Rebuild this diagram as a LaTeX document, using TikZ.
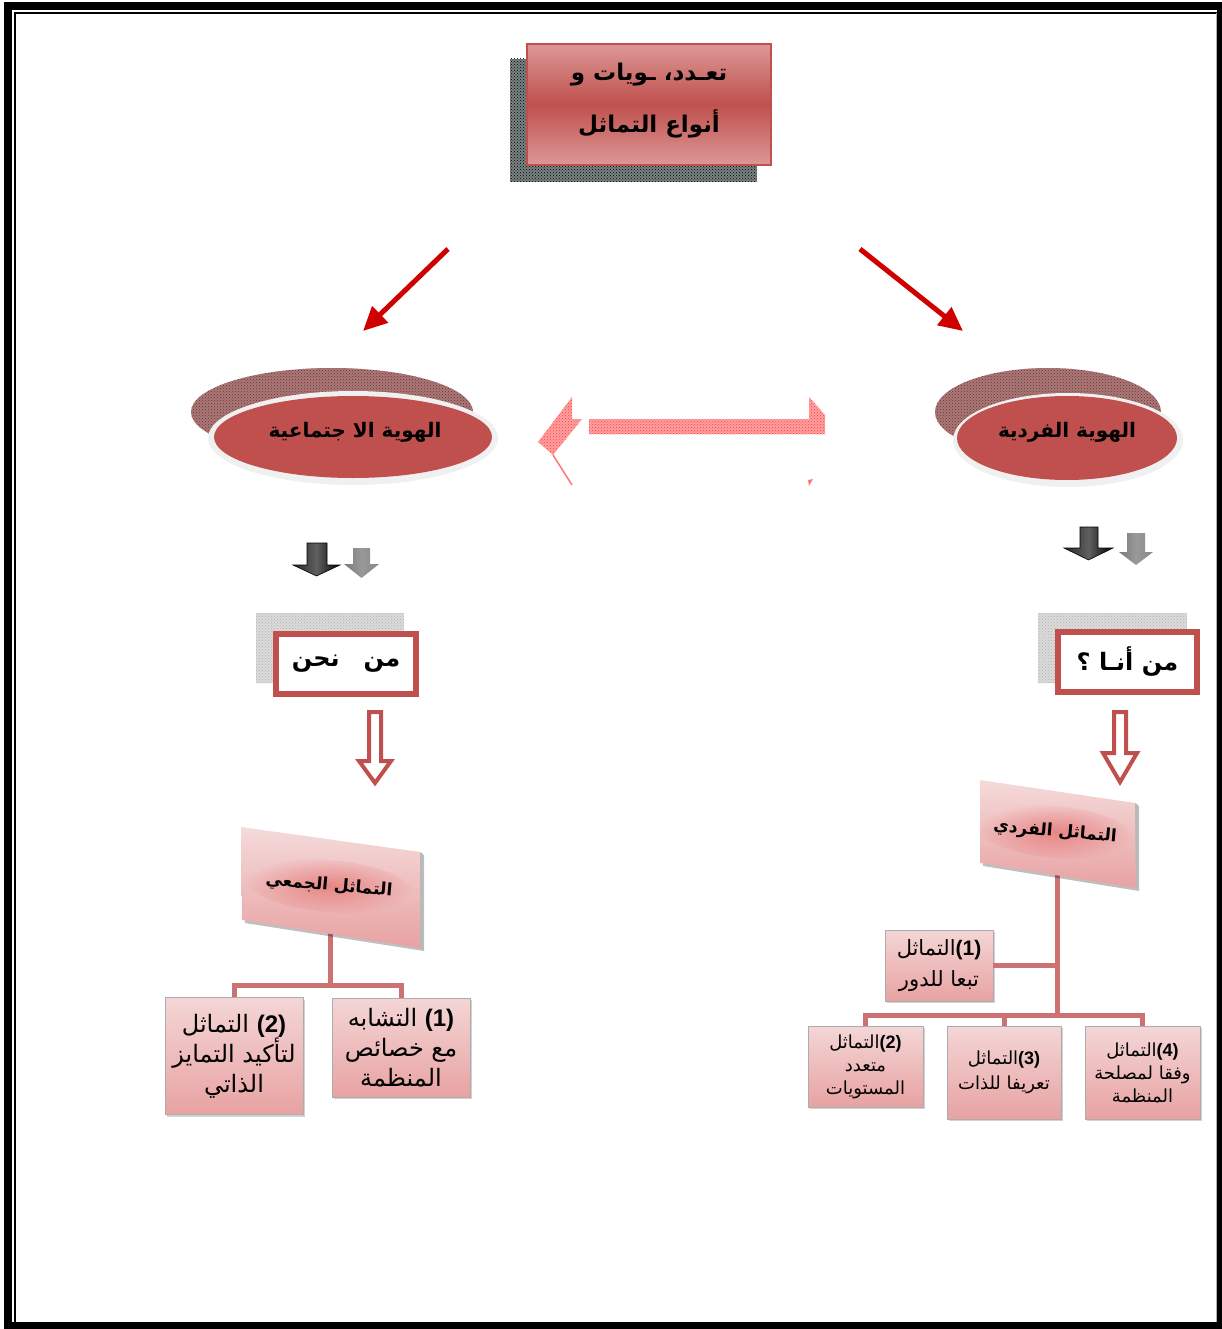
\documentclass[tikz,border=0pt]{standalone}
\usepackage{fontspec}
\setmainfont{Liberation Sans}
\newfontfamily\arabicfont[Script=Arabic]{DejaVu Sans}
\TeXXeTstate=1
\usetikzlibrary{arrows.meta,patterns,shadows,fadings}

\definecolor{rosered}{RGB}{192,80,77}
\definecolor{roselight}{RGB}{220,152,150}
\definecolor{pinktop}{RGB}{244,214,214}
\definecolor{pinkbot}{RGB}{232,162,162}
\definecolor{connred}{RGB}{204,114,114}
\definecolor{arrowred}{RGB}{208,0,0}
\definecolor{bandpink}{RGB}{255,160,160}
\definecolor{banddot}{RGB}{255,60,60}
\definecolor{ringgray}{RGB}{240,240,240}
\definecolor{ovalshade}{RGB}{170,120,120}
\definecolor{ovaldot}{RGB}{110,50,50}
\definecolor{titleshade}{RGB}{120,130,130}
\definecolor{midgray}{RGB}{135,135,135}
\definecolor{glowred}{RGB}{230,110,110}

\tikzfading[name=softglow, inner color=transparent!0, outer color=transparent!100]

\newcommand{\artext}[1]{{\arabicfont\beginR #1\endR}}
\newcommand{\numtag}[1]{{\normalfont\bfseries\beginL(#1)\endL}}

\tikzset{
  pinkbox/.style={draw=gray!65, line width=0.8pt, top color=pinktop, bottom color=pinkbot,
    drop shadow={shadow xshift=2pt, shadow yshift=-2pt, opacity=.35},
    inner sep=0pt, align=center},
  conn/.style={draw=connred, line width=5pt, line join=miter},
  redarrow/.style={draw=arrowred, line width=5pt, -{Triangle[length=24pt,width=22pt]}},
  askbox/.style={draw=rosered, line width=6pt, fill=white, inner sep=0pt,
    font=\fontsize{24}{28}\selectfont\bfseries},
  greyshadow/.style={fill=gray!28},
  hollowarrow/.style={draw=rosered, line width=4pt, fill=white, line join=miter},
  ovaltext/.style={font=\fontsize{20}{24}\selectfont\bfseries},
  slanttext/.style={font=\fontsize{17}{20}\selectfont\bfseries, rotate=-5},
  glowspot/.style={fill=glowred, path fading=softglow, fill opacity=.7},
}

\begin{document}
\begin{tikzpicture}[x=1pt, y=-1pt]
\useasboundingbox (0,0) rectangle (1221,1329);
\fill[white] (0,0) rectangle (1221,1329);

% page frame
\draw[line width=8pt] (8,6) rectangle (1221,1326);
\draw[line width=2pt] (15,1322) -- (15,13) -- (1217,13);
\draw[gray!60, line width=1pt] (1216.5,13) -- (1216.5,1322);

% ---------- title ----------
\fill[titleshade] (510,59) rectangle (757,182);
\fill[pattern=crosshatch dots, pattern color=black] (510,59) rectangle (757,182);
\shade[top color=roselight, bottom color=roselight, middle color=rosered] (527,44) rectangle (771,165);
\draw[rosered, line width=2pt] (527,44) rectangle (771,165);
\node[font=\fontsize{23}{52}\selectfont\bfseries, align=center] (title) at (649,101)
  {\artext{تعـدد، ـويات و}\\\artext{أنواع التماثل}};

\coordinate (tl) at (448,249);
\coordinate (tr) at (860,249);
\coordinate (gl) at (363,331);
\coordinate (gr) at (963,331);
\draw[redarrow] (tl) -- (gl);
\draw[redarrow] (tr) -- (gr);

% ---------- ovals ----------
\fill[ovalshade] (332,412) ellipse [x radius=141, y radius=44];
\fill[pattern=crosshatch dots, pattern color=ovaldot] (332,412) ellipse [x radius=141, y radius=44];
\fill[ringgray] (353,438) ellipse [x radius=145, y radius=47];
\fill[rosered] (353,437) ellipse [x radius=139, y radius=41];
\node[ovaltext] (social) at (355,432) {\artext{الهوية الا جتماعية}};

\fill[ovalshade] (1048,412) ellipse [x radius=113, y radius=44];
\fill[pattern=crosshatch dots, pattern color=ovaldot] (1048,412) ellipse [x radius=113, y radius=44];
\fill[ringgray] (1068,440) ellipse [x radius=115, y radius=47];
\fill[rosered] (1067,438) ellipse [x radius=110, y radius=42];
\node[ovaltext] (personal) at (1067,432) {\artext{الهوية الفردية}};

% ---------- broad arrow between the ovals ----------
\fill[bandpink] (589,419) rectangle (825,434);
\fill[bandpink] (538,442) -- (572,397) -- (572,419) -- (582,419) -- (553,455) -- cycle;
\fill[bandpink] (809,397) -- (825,415) -- (825,419) -- (809,419) -- cycle;
\fill[pattern=crosshatch dots, pattern color=banddot] (589,419) rectangle (825,434);
\fill[pattern=crosshatch dots, pattern color=banddot] (538,442) -- (572,397) -- (572,419) -- (582,419) -- (553,455) -- cycle;
\fill[pattern=crosshatch dots, pattern color=banddot] (809,397) -- (825,415) -- (825,419) -- (809,419) -- cycle;
\draw[banddot!70!white, line width=1.5pt] (553,455) -- (572,485);
\fill[banddot!70!white] (808,480) -- (813,479) -- (809,486) -- cycle;

% ---------- small block arrows ----------
\shade[left color=black!85, right color=black, middle color=gray!75!black, draw=black, line width=0.6pt]
  (307,543) -- (327,543) -- (327,565) -- (340,565) -- (316.5,576) -- (293,565) -- (307,565) -- cycle;
\shade[left color=midgray!90!black, right color=midgray, middle color=midgray!85!white]
  (353,548) -- (370,548) -- (370,564) -- (379,564) -- (361.5,578) -- (344,564) -- (353,564) -- cycle;
\shade[left color=black!85, right color=black, middle color=gray!75!black, draw=black, line width=0.6pt]
  (1080,527) -- (1098,527) -- (1098,548) -- (1113,548) -- (1088.5,560) -- (1064,548) -- (1080,548) -- cycle;
\shade[left color=midgray!90!black, right color=midgray, middle color=midgray!85!white]
  (1127,533) -- (1145,533) -- (1145,552) -- (1153,552) -- (1136,565) -- (1119,552) -- (1127,552) -- cycle;

% ---------- question boxes ----------
\fill[greyshadow] (256,613) rectangle (404,683);
\fill[pattern=crosshatch dots, pattern color=gray!60] (256,613) rectangle (404,683);
\node[askbox, minimum width=140pt, minimum height=60pt] (we) at (346,664)
  {\artext{من\hspace{24pt}نحن}};

\fill[greyshadow] (1038,613) rectangle (1187,683);
\fill[pattern=crosshatch dots, pattern color=gray!60] (1038,613) rectangle (1187,683);
\node[askbox, minimum width=139pt, minimum height=60pt] (me) at (1127.5,662)
  {\artext{من أنـا ؟}};

% ---------- hollow arrows ----------
\draw[hollowarrow] (369,712) -- (381,712) -- (381,761) -- (391,761) -- (375,783) -- (359,761) -- (369,761) -- cycle;
\draw[hollowarrow] (1114,712) -- (1126,712) -- (1126,753) -- (1137,753) -- (1120,782) -- (1103,753) -- (1114,753) -- cycle;

% ---------- tree ----------
\coordinate (lgb) at (330,930);
\coordinate (ljoin) at (330,985);
\coordinate (rgb) at (1057,875);
\coordinate (rjoin) at (1057,1015);

\node[pinkbox, minimum width=138pt, minimum height=99pt, font=\fontsize{24}{30}\selectfont] (b1) at (401,1047.5)
  {\artext{\numtag{1} التشابه}\\\artext{مع خصائص}\\\artext{المنظمة}};
\node[pinkbox, minimum width=138pt, minimum height=117pt, font=\fontsize{24}{30}\selectfont] (b2) at (234,1056)
  {\artext{\numtag{2} التماثل}\\\artext{لتأكيد التمايز}\\\artext{الذاتي}};

\node[pinkbox, minimum width=108pt, minimum height=71pt, font=\fontsize{21}{31}\selectfont] (r1) at (939,965.5)
  {\artext{\numtag{1}التماثل}\\\artext{تبعا للدور}};
\node[pinkbox, minimum width=115pt, minimum height=81pt, font=\fontsize{18}{23}\selectfont] (r2) at (865.5,1066.5)
  {\artext{\numtag{2}التماثل}\\\artext{متعدد}\\\artext{المستويات}};
\node[pinkbox, minimum width=114pt, minimum height=93pt, font=\fontsize{18}{25}\selectfont] (r3) at (1004,1072.5)
  {\artext{\numtag{3}التماثل}\\\artext{تعريفا للذات}};
\node[pinkbox, minimum width=115pt, minimum height=93pt, font=\fontsize{18}{23}\selectfont] (r4) at (1142.5,1072.5)
  {\artext{\numtag{4}التماثل}\\\artext{وفقا لمصلحة}\\\artext{المنظمة}};

\draw[conn] (lgb) -- (ljoin);
\draw[conn] (b2.north) |- (ljoin);
\draw[conn] (b1.north) |- (ljoin);
\draw[conn] (rgb) -- (rjoin);
\draw[conn] (r1.east) -- (r1.east -| rgb);
\draw[conn] (r2.north) |- (rjoin);
\draw[conn] (r4.north) |- (rjoin);
\draw[conn] (r3.north) -- (r3.north |- rjoin);

% ---------- slanted title cards ----------
\fill[black, opacity=.25] (244,830) -- (424,855) -- (424,951) -- (245,923) -- cycle;
\shade[top color=pinktop!90!white, bottom color=pinkbot] (241,827) -- (420,852) -- (420,948) -- (242,920) -- cycle;
\fill[gray!55] (420,852) -- (423,854) -- (423,950) -- (420,948) -- cycle;
\coordinate (lgt) at (329,886);
\fill[glowspot, rotate around={-5:(lgt)}] (lgt) ellipse [x radius=84, y radius=26];
\node[slanttext] (collective) at (lgt) {\artext{التماثل الجمعي}};

\fill[black, opacity=.25] (983,783) -- (1139,806) -- (1139,891) -- (983,866) -- cycle;
\shade[top color=pinktop!90!white, bottom color=pinkbot] (980,780) -- (1135,803) -- (1136,888) -- (980,863) -- cycle;
\fill[gray!55] (1135,803) -- (1138,805) -- (1138,890) -- (1136,888) -- cycle;
\coordinate (rgt) at (1055,832);
\fill[glowspot, rotate around={-5:(rgt)}] (rgt) ellipse [x radius=78, y radius=26];
\node[slanttext] (individual) at (rgt) {\artext{التماثل الفردي}};

\end{tikzpicture}
\end{document}
